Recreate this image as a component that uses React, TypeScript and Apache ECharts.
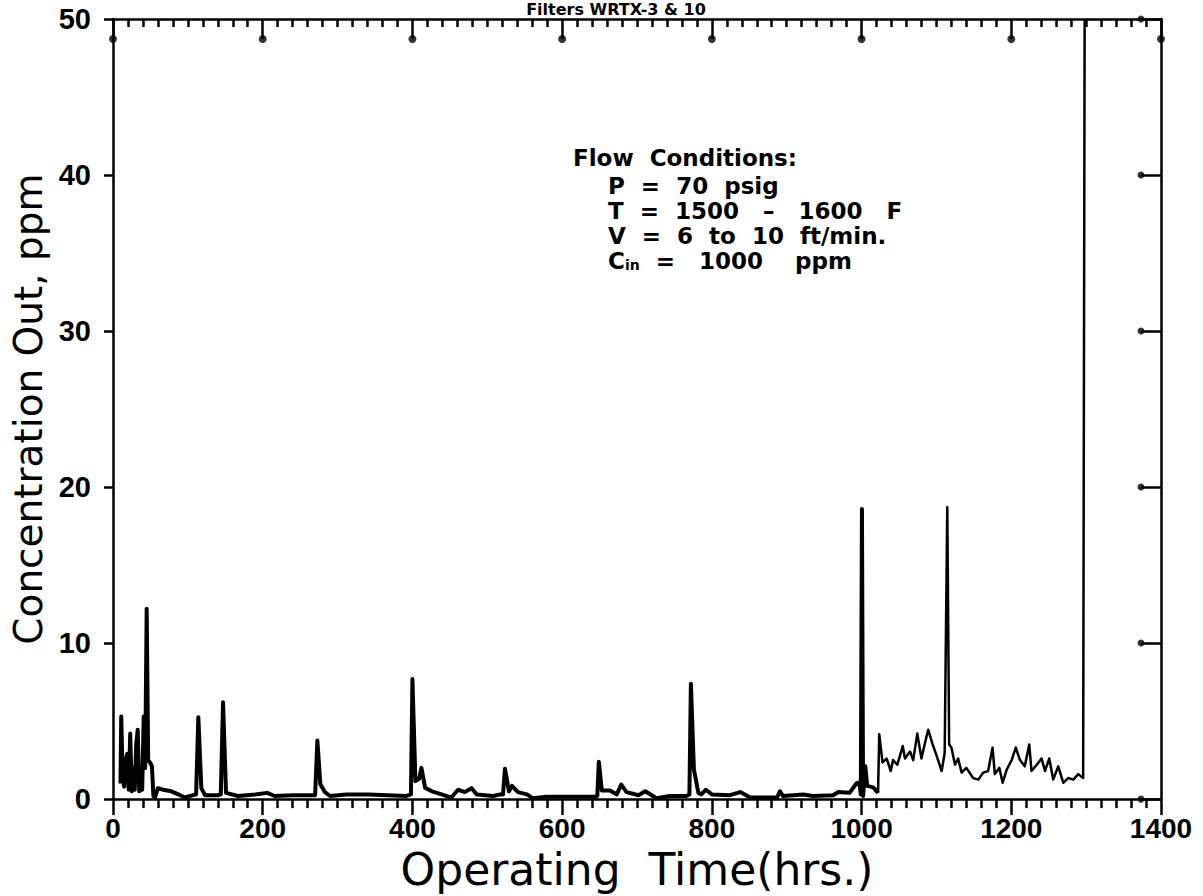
import React, { useEffect, useRef } from "react";
import * as echarts from "echarts";

// Operating time (hrs) and outlet concentration (ppm), first period (thick trace)
const earlyTime = [10, 11, 13, 15, 17, 19, 21, 23, 25, 27, 29, 31, 33, 35, 37, 39, 41, 43, 45, 47, 50, 52, 54, 56, 60, 67, 78, 85, 96, 107, 111, 114, 118, 123, 140, 144, 147, 151, 167, 190, 206, 216, 240, 270, 273, 277, 283, 290, 312, 341, 392, 398, 400, 404, 409, 412, 417, 426, 439, 452, 461, 470, 479, 486, 508, 517, 521, 523.6, 529, 533, 541, 553, 561, 579, 624, 644, 647, 649, 653, 664, 673, 679, 686, 702, 711, 726, 744, 766, 770, 772, 776, 782, 786, 792, 800, 824, 838, 851, 887, 891, 895, 922, 935, 962, 969, 984, 993, 997, 999, 1000.5, 1002, 1005, 1007.5, 1015.5, 1022];
const earlyConc = [1.0, 5.3, 1.3, 0.8, 2.5, 2.9, 0.6, 4.2, 0.5, 2.0, 0.6, 3.5, 4.45, 0.5, 1.0, 0.6, 5.3, 2.0, 12.2, 2.5, 2.3, 2.1, 0.2, 0.1, 0.7, 0.6, 0.5, 0.35, 0.1, 0.25, 0.3, 5.25, 0.7, 0.25, 0.25, 0.3, 6.2, 0.4, 0.2, 0.3, 0.4, 0.2, 0.25, 0.25, 3.75, 0.95, 0.45, 0.2, 0.3, 0.3, 0.2, 0.3, 7.7, 1.15, 1.3, 2.0, 0.72, 0.5, 0.3, 0.1, 0.6, 0.45, 0.7, 0.3, 0.2, 0.3, 0.3, 1.95, 0.5, 0.85, 0.45, 0.3, 0.05, 0.15, 0.15, 0.15, 0.2, 2.4, 0.55, 0.55, 0.3, 0.93, 0.45, 0.25, 0.5, 0.05, 0.2, 0.2, 0.3, 7.4, 1.9, 0.4, 0.3, 0.6, 0.3, 0.25, 0.45, 0.1, 0.1, 0.5, 0.2, 0.3, 0.2, 0.25, 0.45, 0.4, 1.0, 1.07, 0.3, 18.6, 0.2, 2.1, 0.85, 0.75, 0.4];

// Second period (thinner trace), ending with the off-scale rise
const lateTime = [1022, 1023.6, 1028, 1033.5, 1039, 1042, 1047.7, 1055, 1058, 1064.7, 1069, 1074.4, 1080, 1084.7, 1089, 1095, 1099.4, 1107, 1111, 1114.5, 1117, 1120, 1124.8, 1129, 1133.7, 1140, 1149, 1156, 1162.6, 1169, 1175, 1178, 1184, 1188.5, 1194, 1200.5, 1206, 1211.6, 1218, 1224, 1227, 1234, 1240.5, 1245, 1250.7, 1256, 1262.7, 1269.4, 1276, 1282.8, 1289.5, 1296, 1298];
const lateConc = [0.4, 4.15, 2.35, 2.6, 1.8, 2.5, 2.2, 3.4, 2.6, 3.05, 2.5, 4.2, 2.6, 3.6, 4.45, 3.5, 2.9, 1.8, 2.95, 18.7, 3.5, 3.3, 2.2, 2.6, 1.7, 2.0, 1.35, 1.25, 1.7, 1.8, 3.3, 1.6, 2.0, 1.05, 1.9, 2.5, 3.3, 2.5, 2.1, 3.5, 1.8, 2.2, 2.6, 1.8, 2.6, 1.25, 2.1, 1.05, 1.35, 1.25, 1.6, 1.35, 50];

const xMajorTicks = [0, 200, 400, 600, 800, 1000, 1200, 1400];
const yMajorTicks = [0, 10, 20, 30, 40, 50];

const chartTitle = "Filters WRTX-3 & 10";
const xTitle = "Operating  Time(hrs.)";
const yTitle = "Concentration Out, ppm";
const annotationHeader = "Flow  Conditions:";
const annotationLines = [
  "P  =  70  psig",
  "T  =  1500   \u2013   1600   F",
  "V  =  6  to  10  ft/min.",
  "{c|C}{sub|in}{c|  =   1000    ppm}",
];

const TICK_FONT = "'Liberation Sans', Arial, sans-serif";
const TITLE_FONT = "'DejaVu Sans', sans-serif";

export default function App() {
  const ref = useRef<HTMLDivElement>(null);

  useEffect(() => {
    const chart = echarts.init(ref.current!, null, { renderer: "svg" });
    const black = "#000";
    const early = earlyTime.map((t, i) => [t, earlyConc[i]]);
    const late = lateTime.map((t, i) => [t, lateConc[i]]);

    const annoText = (text: string, x: number, y: number, rich = false) => ({
      type: "text",
      x,
      y,
      silent: true,
      style: rich
        ? {
            text,
            fill: black,
            lineHeight: 22,
            rich: {
              c: { fontFamily: TITLE_FONT, fontSize: 23, fontWeight: "bold", fill: black, lineHeight: 22, verticalAlign: "bottom" },
              sub: { fontFamily: TITLE_FONT, fontSize: 14, fontWeight: "bold", fill: black, lineHeight: 22, verticalAlign: "bottom" },
            },
          }
        : { text, fill: black, fontFamily: TITLE_FONT, fontSize: 23, fontWeight: "bold", lineHeight: 22 },
    });

    chart.setOption({
      animation: false,
      backgroundColor: "#fff",
      grid: { left: 113, top: 19, width: 1048, height: 784 },
      xAxis: [
        {
          type: "value",
          position: "bottom",
          min: 0,
          max: 1400,
          interval: 200,
          axisLine: { show: true, onZero: false, lineStyle: { color: black, width: 2.5 } },
          axisTick: { show: true, length: 16, lineStyle: { color: black, width: 2.5 } },
          minorTick: { show: true, splitNumber: 10, length: 9, lineStyle: { color: black, width: 2.5 } },
          splitLine: { show: false },
          axisLabel: {
            color: black,
            fontFamily: TICK_FONT,
            fontWeight: "bold",
            fontSize: 28,
            margin: 15,
            formatter: (v: number) => (xMajorTicks.includes(v) ? String(v) : ""),
          },
          name: xTitle,
          nameLocation: "middle",
          nameGap: 42,
          nameTextStyle: { color: black, fontFamily: TITLE_FONT, fontSize: 44, verticalAlign: "top" },
        },
        {
          type: "value",
          position: "top",
          min: 0,
          max: 1400,
          interval: 200,
          axisLine: { show: true, onZero: false, lineStyle: { color: black, width: 2.5 } },
          axisTick: { show: true, inside: true, length: 20, lineStyle: { color: black, width: 2.5 } },
          minorTick: { show: true, splitNumber: 10, length: 8, lineStyle: { color: black, width: 2.5 } },
          splitLine: { show: false },
          axisLabel: { show: false },
        },
      ],
      yAxis: [
        {
          type: "value",
          position: "left",
          min: 0,
          max: 50,
          interval: 10,
          axisLine: { show: true, onZero: false, lineStyle: { color: black, width: 2.5 } },
          axisTick: { show: true, length: 9, lineStyle: { color: black, width: 2.5 } },
          splitLine: { show: false },
          axisLabel: {
            color: black,
            fontFamily: TICK_FONT,
            fontWeight: "bold",
            fontSize: 29,
            margin: 22,
            formatter: (v: number) => (yMajorTicks.includes(v) ? String(v) : ""),
          },
          name: yTitle,
          nameLocation: "middle",
          nameGap: 62,
          nameRotate: 90,
          nameTextStyle: { color: black, fontFamily: TITLE_FONT, fontSize: 39 },
        },
        {
          type: "value",
          position: "right",
          min: 0,
          max: 50,
          interval: 10,
          axisLine: { show: true, onZero: false, lineStyle: { color: black, width: 2.5 } },
          axisTick: { show: true, inside: true, length: 20, lineStyle: { color: black, width: 2.5 } },
          splitLine: { show: false },
          axisLabel: { show: false },
        },
      ],
      series: [
        {
          type: "line",
          name: "early",
          data: early,
          showSymbol: false,
          symbol: "none",
          clip: false,
          lineStyle: { color: black, width: 4, join: "round" },
          z: 3,
        },
        {
          type: "line",
          name: "late",
          data: late,
          showSymbol: false,
          symbol: "none",
          clip: false,
          lineStyle: { color: black, width: 2.5, join: "round" },
          z: 3,
        },
        {
          type: "scatter",
          name: "topTickDots",
          data: xMajorTicks.map((t) => [t, 50]),
          symbol: "circle",
          symbolSize: 8,
          symbolOffset: [0, 20],
          clip: false,
          silent: true,
          itemStyle: { color: black },
          z: 4,
        },
        {
          type: "scatter",
          name: "rightTickDots",
          data: yMajorTicks.map((v) => [1400, v]),
          symbol: "circle",
          symbolSize: 7,
          symbolOffset: [-20, 0],
          clip: false,
          silent: true,
          itemStyle: { color: black },
          z: 4,
        },
      ],
      graphic: [
        {
          type: "text",
          x: 616,
          y: 17,
          silent: true,
          style: {
            text: chartTitle,
            fill: black,
            fontFamily: TITLE_FONT,
            fontSize: 16,
            fontWeight: "bold",
            align: "center",
            verticalAlign: "bottom",
          },
        },
        annoText(annotationHeader, 573, 147),
        annoText(annotationLines[0], 608, 175),
        annoText(annotationLines[1], 608, 200),
        annoText(annotationLines[2], 608, 225),
        annoText(annotationLines[3], 608, 250, true),
      ],
    });

    return () => chart.dispose();
  }, []);

  return (
    <div
      ref={ref}
      style={{ position: "fixed", left: 0, top: 0, width: 1203, height: 896, background: "#fff" }}
    />
  );
}
